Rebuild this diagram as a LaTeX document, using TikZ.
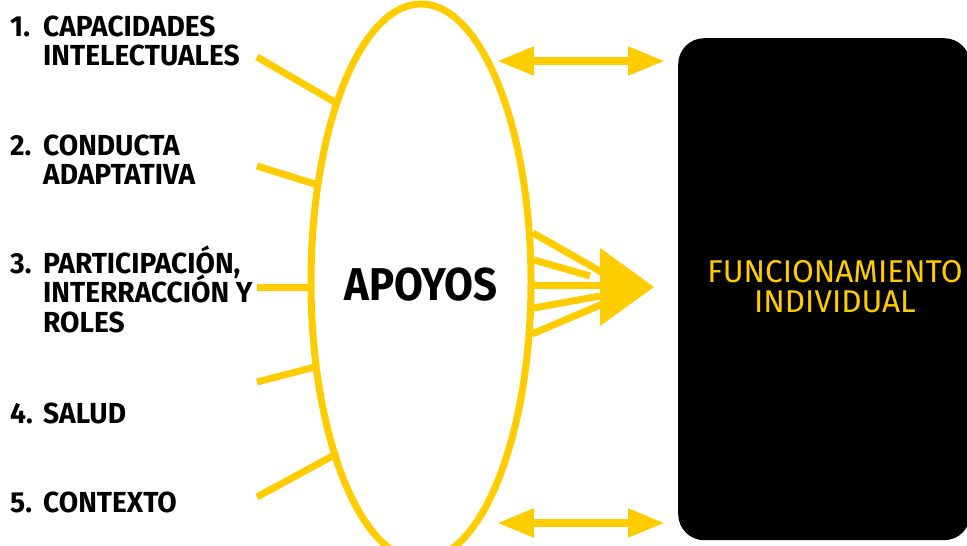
\documentclass[tikz,border=0pt]{standalone}
\usepackage{fontspec}
\usetikzlibrary{arrows.meta,shapes.geometric}
\newfontfamily\labfont[FakeStretch=0.97]{Fira Sans}
\newfontfamily\apfont[FakeStretch=0.91]{Fira Sans}
\newfontfamily\boxfont{Fira Sans}
\definecolor{gold}{RGB}{255,204,0}
\tikzset{
  spoke/.style={draw=gold, line width=7pt},
  lab/.style={anchor=base west, inner sep=0pt, font=\labfont\bfseries\fontsize{29}{29.5}\selectfont},
  dblarrow/.style={draw=gold, line width=8pt, {Triangle[length=37pt,width=27pt]}-{Triangle[length=37pt,width=27pt]}},
}
\begin{document}
\begin{tikzpicture}[x=1pt,y=-1pt]
\useasboundingbox (0,0) rectangle (967,546);
% ellipse
\node[draw=gold, line width=7pt, ellipse, minimum width=220pt, minimum height=556pt, inner sep=0pt] (apoyos) at (421,282) {};
\node[font=\apfont\bfseries\fontsize{46}{46}\selectfont, anchor=base, inner sep=0pt] (apoyostext) at (421,300) {APOYOS};
% labels
\node[lab] (l1) at (10,36) {\begin{tabular}[t]{@{}l@{}l@{}}\makebox[33pt][l]{1.}&CAPACIDADES\\&INTELECTUALES\end{tabular}};
\node[lab] (l2) at (10,155) {\begin{tabular}[t]{@{}l@{}l@{}}\makebox[33pt][l]{2.}&CONDUCTA\\&ADAPTATIVA\end{tabular}};
\node[lab] (l3) at (10,273) {\begin{tabular}[t]{@{}l@{}l@{}}\makebox[33pt][l]{3.}&\smash{PARTICIPACIÓN,}\\&\smash{INTERRACCIÓN Y}\\&ROLES\end{tabular}};
\node[lab] (l4) at (10,423) {\begin{tabular}[t]{@{}l@{}l@{}}\makebox[33pt][l]{4.}&SALUD\end{tabular}};
\node[lab] (l5) at (10,512) {\begin{tabular}[t]{@{}l@{}l@{}}\makebox[33pt][l]{5.}&CONTEXTO\end{tabular}};
% spokes
\coordinate (s1a) at (257,57);  \coordinate (s1b) at (338,104);
\coordinate (s2a) at (257,166); \coordinate (s2b) at (318,185);
\coordinate (s3a) at (257,287); \coordinate (s3b) at (313,287);
\coordinate (s4a) at (257,382); \coordinate (s4b) at (315,367);
\coordinate (s5a) at (257,497); \coordinate (s5b) at (338,453);
\foreach \i in {1,...,5} {\draw[spoke] (s\i a) -- (s\i b);}
% fan
\coordinate (tip) at (654,287);
\coordinate (fb1) at (600,248);
\coordinate (fb2) at (600,326);
\coordinate (f1) at (533,233);
\coordinate (f2) at (534,260);
\coordinate (f3) at (534,285);
\coordinate (f4) at (534,308);
\coordinate (f5) at (532,334);
\coordinate (fe1) at (605,274);
\coordinate (fe2) at (590,276);
\coordinate (fe3) at (605,285);
\coordinate (fe4) at (600,296);
\coordinate (fe5) at (605,303);
\foreach \i in {1,...,5} {\draw[spoke] (f\i) -- (fe\i);}
\fill[gold] (fb1) -- (tip) -- (fb2) -- cycle;
% black box
\node[fill=black, rounded corners=26pt, minimum width=292pt, minimum height=502pt, inner sep=0pt, anchor=north west] (func) at (678,38) {};
\node[text=gold, font=\boxfont\fontsize{31.5}{30}\selectfont, anchor=base, inner sep=0pt] (functext) at (835,282) {\begin{tabular}[t]{@{}c@{}}FUNCIONAMIENTO\\INDIVIDUAL\end{tabular}};
% double arrows
\coordinate (a1l) at (497,61); \coordinate (a1r) at (665,61);
\coordinate (a2l) at (497,523); \coordinate (a2r) at (665,523);
\draw[dblarrow] (a1l) -- (a1r);
\draw[dblarrow] (a2l) -- (a2r);
\end{tikzpicture}
\end{document}
